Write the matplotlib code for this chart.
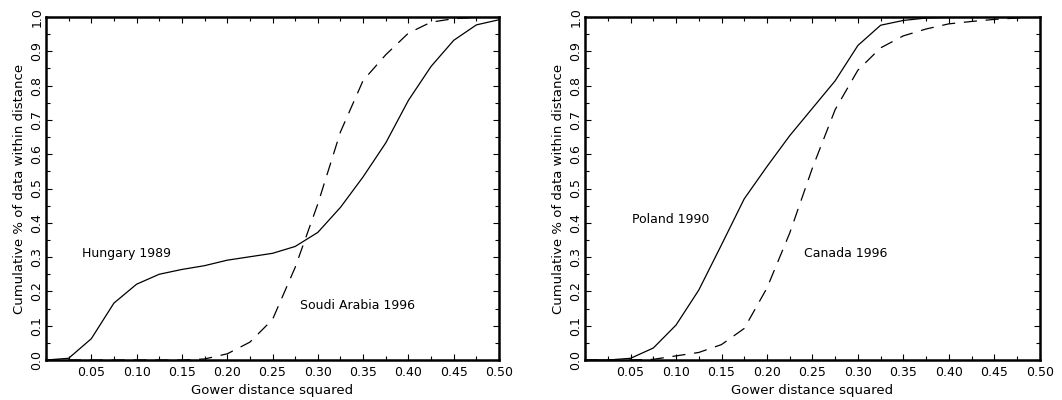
import numpy as np
import matplotlib
matplotlib.use("Agg")
import matplotlib.pyplot as plt
from matplotlib.ticker import MultipleLocator

# Gower distance squared grid (step 0.025)
dist = [0.0, 0.025, 0.05, 0.075, 0.1, 0.125, 0.15, 0.175, 0.2, 0.225, 0.25,
        0.275, 0.3, 0.325, 0.35, 0.375, 0.4, 0.425, 0.45, 0.475, 0.5]

hungary_1989 = [0.0, 0.005, 0.062, 0.166, 0.221, 0.25, 0.264, 0.275, 0.291, 0.301, 0.311,
                0.331, 0.372, 0.445, 0.534, 0.633, 0.757, 0.856, 0.932, 0.977, 0.992]
saudi_1996 = [0.0, 0.0, 0.0, 0.0, 0.0, 0.0, 0.0, 0.003, 0.018, 0.052, 0.118,
              0.27, 0.455, 0.665, 0.815, 0.89, 0.953, 0.985, 0.995, 0.999, 1.0]

poland_1990 = [0.0, 0.0, 0.005, 0.035, 0.102, 0.204, 0.336, 0.47, 0.564, 0.654, 0.734,
               0.814, 0.917, 0.976, 0.99, 0.997, 0.999, 1.0, 1.0, 1.0, 1.0]
canada_1996 = [0.0, 0.0, 0.0, 0.002, 0.012, 0.022, 0.045, 0.092, 0.21, 0.37, 0.56,
               0.73, 0.845, 0.91, 0.945, 0.965, 0.98, 0.987, 0.993, 0.997, 1.0]

panels = [
    (hungary_1989, saudi_1996, "Hungary 1989", (0.040, 0.31), "Soudi Arabia 1996", (0.28, 0.16)),
    (poland_1990, canada_1996, "Poland 1990", (0.051, 0.41), "Canada 1996", (0.241, 0.31)),
]

plt.rcParams["font.family"] = ["DejaVu Sans"]
fig = plt.figure(figsize=(10.62, 4.0), dpi=100)
boxes = [[0.0433, 0.10, 0.4266, 0.8575], [0.551, 0.10, 0.428, 0.8575]]

for box, (solid, dashed, s_lab, s_pos, d_lab, d_pos) in zip(boxes, panels):
    ax = fig.add_axes(box)
    ax.plot(dist, solid, color="black", lw=0.9)
    ax.plot(dist, dashed, color="black", lw=0.9, dashes=(10.5, 7))
    ax.text(s_pos[0], s_pos[1], s_lab, fontsize=9, va="center")
    ax.text(d_pos[0], d_pos[1], d_lab, fontsize=9, va="center")

    ax.set_xlim(0, 0.5)
    ax.set_ylim(0, 1.0)
    ax.set_xticks(np.arange(0.05, 0.501, 0.05))
    ax.set_xticklabels(["%.2f" % v for v in np.arange(0.05, 0.501, 0.05)])
    ax.xaxis.set_minor_locator(MultipleLocator(0.025))
    ax.set_yticks(np.arange(0, 1.01, 0.1))
    ax.set_yticklabels(["%.1f" % v for v in np.arange(0, 1.01, 0.1)],
                       rotation=90, va="center")
    ax.yaxis.set_minor_locator(MultipleLocator(0.05))
    ax.tick_params(which="both", direction="in", top=True, right=True,
                   labelsize=9, width=0.8)
    ax.tick_params(which="major", length=4)
    ax.tick_params(which="minor", length=3)
    ax.tick_params(axis="x", pad=4)
    ax.tick_params(axis="y", pad=2)
    for sp in ax.spines.values():
        sp.set_linewidth(1.8)
    ax.set_xlabel("Gower distance squared", fontsize=9.5, labelpad=4)
    ax.set_ylabel("Cumulative % of data within distance", fontsize=9.5, labelpad=3)

fig.savefig("out.png", dpi=100)
